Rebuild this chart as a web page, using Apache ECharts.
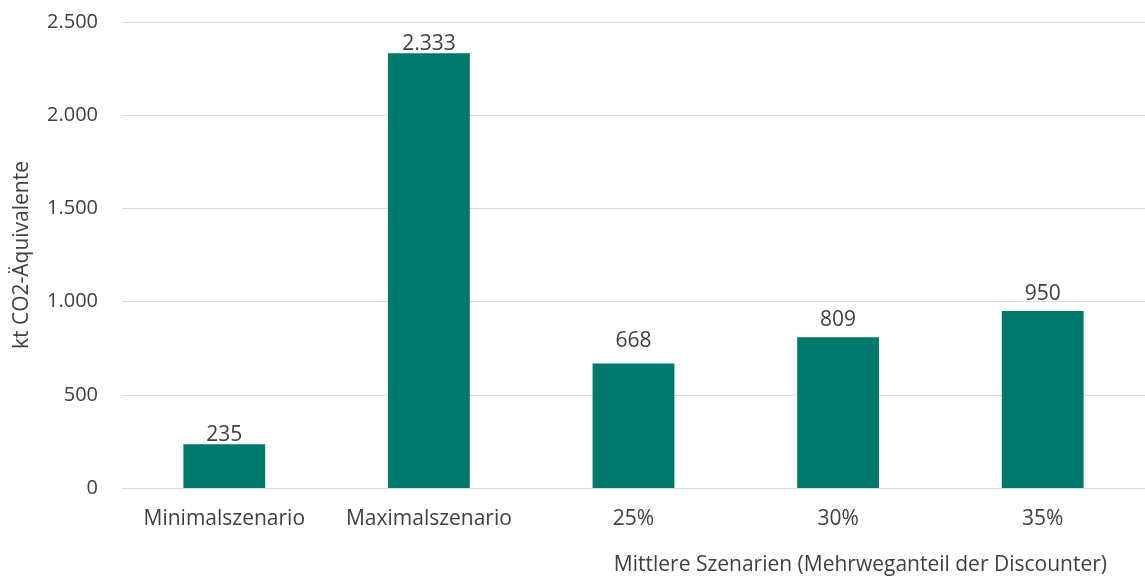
<!DOCTYPE html>
<html>
<head>
<meta charset="utf-8">
<script src="https://cdn.jsdelivr.net/npm/echarts@6/dist/echarts.min.js"></script>
<style>
  html, body { margin: 0; padding: 0; background: #fff; }
  #chart { width: 1145px; height: 577px; }
</style>
</head>
<body>
<div id="chart"></div>
<script>
// Szenarien und CO2-Emissionen (kt CO2-Äquivalente)
const categories = ['Minimalszenario', 'Maximalszenario', '25%', '30%', '35%'];
const values = [235, 2333, 668, 809, 950];
const yTicks = { min: 0, max: 2500, interval: 500 };
const yAxisTitle = 'kt CO2-Äquivalente';
const xAxisTitle = 'Mittlere Szenarien (Mehrweganteil der Discounter)';

const fontFamily = '"Open Sans", sans-serif';
const textColor = '#404040';
const fontSize = 21;

// Tausendertrennzeichen im deutschen Format
const fmt = v => String(v).replace(/\B(?=(\d{3})+(?!\d))/g, '.');

// Abstand der Wertbeschriftung zum Balken; die Randszenarien sitzen direkt auf dem Balken
const labelGap = [-1, -1, 12, 7, 6];

const chart = echarts.init(document.getElementById('chart'));
chart.setOption({
  animation: false,
  textStyle: { fontFamily: fontFamily },
  grid: { left: 122, top: 22, width: 1030, height: 466, containLabel: false },
  xAxis: {
    type: 'category',
    data: categories,
    axisLine: { lineStyle: { color: '#d9d9d9', width: 1 } },
    axisTick: { show: false },
    axisLabel: { interval: 0, color: textColor, fontSize: fontSize, margin: 21, fontFamily: fontFamily }
  },
  yAxis: {
    type: 'value',
    min: yTicks.min,
    max: yTicks.max,
    interval: yTicks.interval,
    name: yAxisTitle,
    nameLocation: 'middle',
    nameRotate: 90,
    nameGap: 89,
    nameTextStyle: { color: textColor, fontSize: 21, fontFamily: fontFamily },
    axisLine: { show: false },
    axisTick: { show: false },
    axisLabel: { color: textColor, fontSize: 20, margin: 24, formatter: fmt, fontFamily: fontFamily },
    splitLine: { lineStyle: { color: '#d9d9d9', width: 1 } }
  },
  series: [{
    type: 'bar',
    data: values.map((v, i) => ({ value: v, label: { distance: labelGap[i] } })),
    barWidth: '40%',
    itemStyle: { color: '#00796b' },
    label: {
      show: true,
      position: 'top',
      color: textColor,
      fontSize: fontSize,
      fontFamily: fontFamily,
      formatter: p => fmt(p.value)
    }
  }],
  graphic: [{
    type: 'text',
    right: 38,
    top: 555,
    style: { text: xAxisTitle, fill: textColor, fontSize: fontSize, fontFamily: fontFamily }
  }]
});
</script>
</body>
</html>
